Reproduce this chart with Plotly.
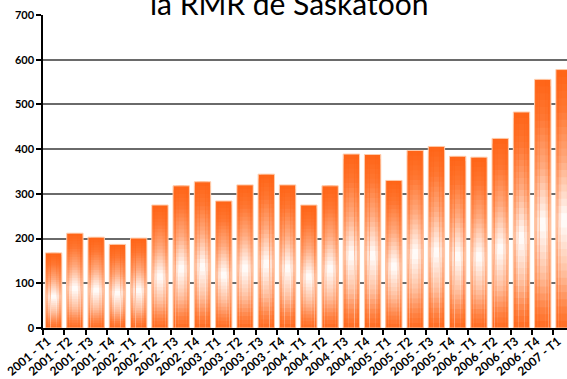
import plotly.graph_objects as go

# Quarterly series, 2001 Q1 to 2007 Q1
categories = [
    "2001 - T1", "2001 - T2", "2001 - T3", "2001 - T4",
    "2002 - T1", "2002 - T2", "2002 - T3", "2002 - T4",
    "2003 - T1", "2003 - T2", "2003 - T3", "2003 - T4",
    "2004 - T1", "2004 - T2", "2004 - T3", "2004 - T4",
    "2005 - T1", "2005 - T2", "2005 - T3", "2005 - T4",
    "2006 - T1", "2006 - T2", "2006 - T3", "2006 - T4",
    "2007 - T1",
]
values = [
    168, 212, 203, 187,
    201, 275, 318, 327,
    284, 320, 344, 320,
    275, 318, 389, 388,
    330, 397, 406, 384,
    382, 424, 483, 556,
    578,
]
y_ticks = [0, 100, 200, 300, 400, 500, 600, 700]
title_text = "la RMR de Saskatoon"

ORANGE = (255, 100, 22)
N_SEG = 36

# whiteness profile along the bar, from top (0) to bottom (1)
knots = [(0.0, 0.0), (0.15, 0.12), (0.35, 0.45), (0.58, 1.0),
         (0.78, 0.6), (0.92, 0.2), (1.0, 0.05)]


def whiteness(t):
    for (t0, w0), (t1, w1) in zip(knots[:-1], knots[1:]):
        if t0 <= t <= t1:
            return w0 + (w1 - w0) * (t - t0) / (t1 - t0)
    return 0.0


def mix(w):
    r, g, b = (round(c + (255 - c) * w) for c in ORANGE)
    return f"rgb({r},{g},{b})"


fig = go.Figure()

# three nested layers give the horizontal shading; each is split into
# vertical bands for the vertical shading (bands drawn top first)
layers = [(0.75, 0.6), (0.5, 0.85), (0.26, 1.0)]
for width, strength in layers:
    xs, ys, cols = [], [], []
    for k in range(N_SEG):
        frac = 1 - k / N_SEG
        t = (k + 0.5) / N_SEG
        col = mix(min(1.0, whiteness(t) * strength))
        for c, v in zip(categories, values):
            xs.append(c)
            ys.append(v * frac)
            cols.append(col)
    fig.add_trace(go.Bar(
        x=xs, y=ys, width=width,
        marker=dict(color=cols, line=dict(width=0)),
        hoverinfo="skip", showlegend=False,
    ))

# light outline round each bar
fig.add_trace(go.Bar(
    x=categories, y=values, width=0.77,
    marker=dict(color="rgba(0,0,0,0)", line=dict(color="#FFCBAA", width=1)),
    hoverinfo="skip", showlegend=False,
))

fig.add_annotation(
    text=title_text, xref="paper", yref="paper", x=0.47, y=0.975,
    xanchor="center", yanchor="bottom", showarrow=False,
    font=dict(family="Lato", size=30, color="black"),
)

fig.update_layout(
    width=567, height=379,
    margin=dict(l=43, r=0, t=15, b=51),
    barmode="overlay",
    paper_bgcolor="white", plot_bgcolor="white",
    xaxis=dict(
        type="category", categoryorder="array", categoryarray=categories,
        range=[-0.5, 24.14], tickson="boundaries", automargin=False,
        ticks="outside", ticklen=5, tickcolor="black", tickwidth=1.5,
        showline=True, linecolor="black", linewidth=1.5,
        tickangle=-40, showgrid=False, ticklabelshift=-6,
        tickfont=dict(family="Lato", size=12, color="black", weight="bold"),
    ),
    yaxis=dict(
        range=[0, 700], tickvals=y_ticks, automargin=False,
        ticks="outside", ticklen=5, tickcolor="black", tickwidth=1.5,
        showline=True, linecolor="black", linewidth=1.5,
        showgrid=True, gridcolor="#6a6a6a", gridwidth=1.5, zeroline=False,
        tickfont=dict(family="Lato", size=11, color="black", weight="bold"),
    ),
)

fig.write_html("out.html")
